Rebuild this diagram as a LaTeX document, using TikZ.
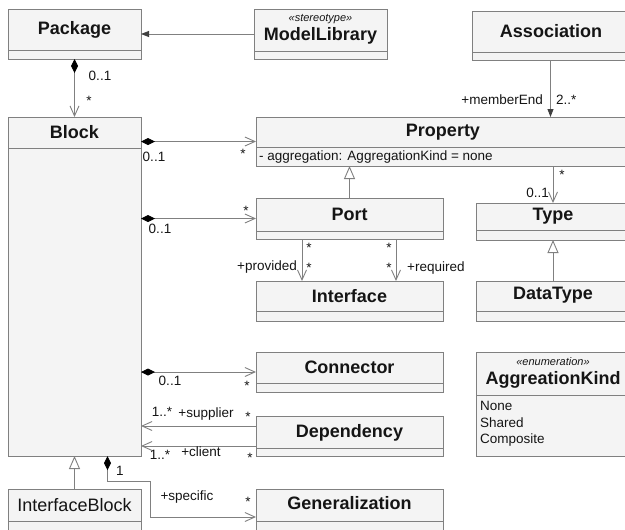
\documentclass[tikz,border=0pt]{standalone}
\usepackage{fontspec}
\setmainfont{Liberation Sans}
\usetikzlibrary{arrows.meta}

\definecolor{linegray}{HTML}{808080}
\definecolor{boxfill}{HTML}{F4F4F4}
\definecolor{inkcol}{HTML}{151515}

% class box: name, x1, y1, x2, y2, y of the divider line
\newcommand\umlclassbox[6]{%
  \node[classbox, anchor=north west,
        minimum width={(#4-#2)*1pt}, minimum height={(#5-#3)*1pt}] (#1) at (#2,#3) {};
  \draw[edge] (#2,#6) -- (#4,#6);}

\begin{document}
\begin{tikzpicture}[x=1pt, y=-1pt,
  classbox/.style={draw=linegray, fill=boxfill, line width=0.9pt, inner sep=0pt, outer sep=0pt},
  edge/.style={draw=linegray, line width=0.9pt},
  title/.style={text=inkcol, font=\fontsize{18}{21}\selectfont\bfseries, inner sep=0pt},
  plaintitle/.style={text=inkcol, font=\fontsize{18}{21}\selectfont, inner sep=0pt},
  stereo/.style={text=inkcol, font=\fontsize{11}{12}\selectfont\itshape, inner sep=0pt},
  lab/.style={text=inkcol, font=\fontsize{13.5}{15}\selectfont, inner sep=0pt},
  attr/.style={text=inkcol, font=\fontsize{13.5}{15}\selectfont, inner sep=0pt, anchor=west},
  comp/.style={edge, {Diamond[length=14pt,width=7pt,color=black,fill=black]}-{Straight Barb[length=10pt,width=9pt]}},
  nav/.style={edge, -{Straight Barb[length=10pt,width=9pt]}},
  filled/.style={edge, -{Triangle[length=8pt,width=6pt,color=black!75,fill=black!75]}},
  gener/.style={edge, -{Triangle[open,length=13pt,width=11pt,fill=white]}},
]
\useasboundingbox (0,0) rectangle (625,530);
\clip (0,0) rectangle (625,530);
\fill[white] (0,0) rectangle (625,530);

% ---- class boxes ----
\umlclassbox{pkg}{8}{9}{141}{59}{50}
\node[title] (pkgT) at (74.5,30) {Package};

\umlclassbox{ml}{254}{9}{387}{59}{51}
\node[stereo] (mlS) at (320.5,19) {«stereotype»};
\node[title] (mlT) at (320.5,36) {ModelLibrary};

\umlclassbox{assoc}{472}{11}{630}{60}{52}
\node[title] (assocT) at (551,31) {Association};

\umlclassbox{block}{8}{117}{141}{456}{148}
\node[title] (blockT) at (74.5,132) {Block};

\umlclassbox{prop}{256}{117}{630}{166}{147}
\node[title] (propT) at (443,132) {Property};
\node[attr] (propA) at (259,157) {- aggregation: AggregationKind = none};

\umlclassbox{port}{256}{198}{443}{239}{231}
\node[title] (portT) at (349.5,214) {Port};

\umlclassbox{type}{476}{203}{630}{240}{230}
\node[title] (typeT) at (553,216) {Type};

\umlclassbox{intf}{256}{281}{443}{321}{311}
\node[title] (intfT) at (349.5,296) {Interface};

\umlclassbox{dt}{476}{281}{630}{321}{311}
\node[title] (dtT) at (553,295) {DataType};

\umlclassbox{conn}{256}{352}{443}{392}{383}
\node[title] (connT) at (349.5,367) {Connector};

\umlclassbox{enum}{476}{352}{630}{456}{395}
\node[stereo] (enumS) at (553,362) {«enumeration»};
\node[title] (enumT) at (553,380) {AggreationKind};
\node[attr] (enumA) at (480,406) {None};
\node[attr] (enumB) at (480,423) {Shared};
\node[attr] (enumC) at (480,440) {Composite};

\umlclassbox{dep}{256}{416}{443}{456}{448}
\node[title] (depT) at (349.5,433) {Dependency};

\umlclassbox{ib}{8}{489}{141}{545}{521}
\node[plaintitle] (ibT) at (74.5,505) {InterfaceBlock};

\umlclassbox{gen}{256}{489}{443}{545}{521}
\node[title] (genT) at (349.5,503) {Generalization};

% ---- connectors ----
\draw[filled] (ml.west) -- (pkg.east);

\draw[comp] (pkg.south) -- (block.north);
\node[lab] (l1) at (100,76) {0..1};
\node[lab] (l2) at (89,101) {*};

\draw[filled] ([xshift=-0.5pt]assoc.south) -- ([xshift=-0.5pt]assoc.south |- prop.north);
\node[lab, anchor=east] (l3) at (543,100) {+memberEnd};
\node[lab, anchor=west] (l4) at (556,100) {2..*};

\draw[comp] (block.east |- prop.west) -- (prop.west);
\node[lab] (l5) at (154,157) {0..1};
\node[lab] (l6) at (243,154) {*};

\draw[comp] (block.east |- port.west) -- (port.west);
\node[lab] (l7) at (246,211) {*};
\node[lab] (l8) at (160,229) {0..1};

\draw[gener] (port.north) -- (port.north |- prop.south);

\draw[nav] (prop.south -| type.north) -- (type.north);
\node[lab] (l9) at (562,175) {*};
\node[lab, anchor=east] (l10) at (549,193) {0..1};

\draw[gener] (dt.north) -- (type.south);

\draw[nav] ([xshift=-47.5pt]port.south) -- ([xshift=-47.5pt]intf.north);
\node[lab] (l11) at (309,248) {*};
\node[lab] (l12) at (309,268) {*};
\node[lab, anchor=east] (l13) at (297,267) {+provided};
\draw[nav] ([xshift=46.5pt]port.south) -- ([xshift=46.5pt]intf.north);
\node[lab] (l14) at (389,248) {*};
\node[lab] (l15) at (389,268) {*};
\node[lab, anchor=west] (l16) at (407,268) {+required};

\draw[comp] (block.east |- conn.west) -- (conn.west);
\node[lab] (l17) at (170,381) {0..1};
\node[lab] (l18) at (247,386) {*};

\draw[nav] ([yshift=10pt]dep.west) -- ([yshift=10pt]dep.west -| block.east);
\node[lab] (l19) at (162,412) {1..*};
\node[lab] (l20) at (206,414) {+supplier};
\node[lab] (l21) at (248,417) {*};

\draw[nav] ([yshift=-10pt]dep.west) -- ([yshift=-10pt]dep.west -| block.east);
\node[lab] (l22) at (160,455) {1..*};
\node[lab] (l23) at (201,452) {+client};
\node[lab] (l24) at (250,458) {*};

\draw[comp] ([xshift=33pt]block.south) -- ++(0,25) -- ++(43,0) |- (gen.west);
\node[lab] (l25) at (120,471) {1};
\node[lab] (l26) at (187,497) {+specific};
\node[lab] (l27) at (248,502) {*};

\draw[gener] (ib.north) -- (block.south);
\end{tikzpicture}
\end{document}
